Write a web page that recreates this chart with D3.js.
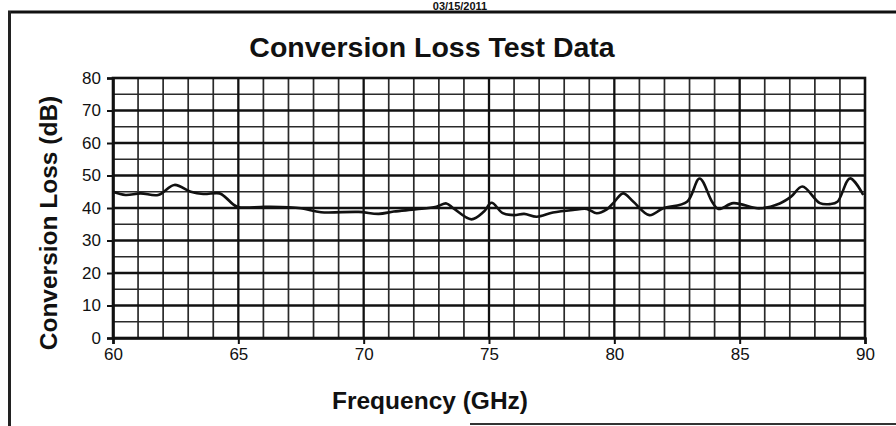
<!DOCTYPE html>
<html>
<head>
<meta charset="utf-8">
<script src="https://cdn.jsdelivr.net/npm/d3@7"></script>
<style>
  body { margin: 0; background: #fff; }
  svg { display: block; }
  text { font-family: "Liberation Sans", Arial, sans-serif; fill: #111; }
</style>
</head>
<body>
<svg id="chart" width="896" height="426"></svg>
<script>
// ---- data ----
const title = "Conversion Loss Test Data";
const xLabel = "Frequency (GHz)";
const yLabel = "Conversion Loss (dB)";
const headerText = "03/15/2011";
const xTicks = [60, 65, 70, 75, 80, 85, 90];
const yTicks = [0, 10, 20, 30, 40, 50, 60, 70, 80];
const frequencies = [60.0, 60.5, 61.1, 61.8, 62.45, 63.1, 63.6, 64.25, 64.5, 64.95, 66.1, 67.5, 68.3, 69.8, 70.6, 71.2, 72.1, 72.9, 73.3, 73.6, 74.3, 74.8, 75.1, 75.55, 76.0, 76.4, 76.9, 77.55, 78.35, 78.9, 79.3, 79.7, 80.0, 80.35, 80.75, 81.4, 81.95, 82.9, 83.4, 83.9, 84.15, 84.75, 85.8, 86.6, 87.05, 87.5, 88.2, 88.6, 88.9, 89.4, 89.93];
const losses = [45.0, 44.0, 44.5, 44.0, 47.1, 45.0, 44.3, 44.5, 43.2, 40.4, 40.4, 39.9, 38.7, 38.8, 38.2, 38.9, 39.6, 40.4, 41.4, 39.8, 36.5, 38.9, 41.6, 38.4, 37.8, 38.2, 37.3, 38.6, 39.4, 39.7, 38.4, 39.6, 41.9, 44.5, 42.0, 37.8, 39.9, 41.9, 49.1, 41.9, 39.7, 41.5, 39.9, 41.4, 43.5, 46.6, 41.5, 41.2, 41.9, 49.1, 44.0];

// ---- layout ----
const svg = d3.select("#chart");
const pL = 113, pR = 865, pT = 78, pB = 338;
const x = d3.scaleLinear().domain([60, 90]).range([pL, pR]);
const y = d3.scaleLinear().domain([0, 80]).range([pB, pT]);

// page frame (scanned document border)
svg.append("line").attr("x1", 8).attr("x2", 896).attr("y1", 12).attr("y2", 12)
  .attr("stroke", "#111").attr("stroke-width", 3);
svg.append("line").attr("x1", 9.5).attr("x2", 9.5).attr("y1", 11).attr("y2", 426)
  .attr("stroke", "#222").attr("stroke-width", 3);
svg.append("line").attr("x1", 470).attr("x2", 896).attr("y1", 424).attr("y2", 424)
  .attr("stroke", "#333").attr("stroke-width", 2);
svg.append("text").attr("x", 460).attr("y", 9.5).attr("text-anchor", "middle")
  .attr("font-size", 11).attr("font-weight", "bold").text(headerText);

// grid
const g = svg.append("g");
const minorX = d3.range(61, 90).filter(v => v % 5 !== 0);
const minorY = d3.range(5, 80, 10);
g.selectAll(".mx").data(minorX).join("line")
  .attr("x1", d => x(d)).attr("x2", d => x(d)).attr("y1", pT).attr("y2", pB)
  .attr("stroke", "#2a2a2a").attr("stroke-width", 1.7);
g.selectAll(".my").data(minorY).join("line")
  .attr("x1", pL).attr("x2", pR).attr("y1", d => y(d)).attr("y2", d => y(d))
  .attr("stroke", "#2a2a2a").attr("stroke-width", 1.7);
g.selectAll(".Mx").data(xTicks.slice(1, -1)).join("line")
  .attr("x1", d => x(d)).attr("x2", d => x(d)).attr("y1", pT).attr("y2", pB)
  .attr("stroke", "#111").attr("stroke-width", 2.3);
g.selectAll(".My").data(yTicks.slice(1, -1)).join("line")
  .attr("x1", pL).attr("x2", pR).attr("y1", d => y(d)).attr("y2", d => y(d))
  .attr("stroke", "#111").attr("stroke-width", 2.3);

// plot border
svg.append("rect").attr("x", pL).attr("y", pT).attr("width", pR - pL).attr("height", pB - pT)
  .attr("fill", "none").attr("stroke", "#111").attr("stroke-width", 2.6);

// axes
const xAxis = svg.append("g").attr("transform", `translate(0,${pB})`)
  .call(d3.axisBottom(x).tickValues(xTicks).tickSize(6).tickPadding(4).tickFormat(d3.format("d")));
const yAxis = svg.append("g").attr("transform", `translate(${pL},0)`)
  .call(d3.axisLeft(y).tickValues(yTicks).tickSize(6).tickPadding(6).tickFormat(d3.format("d")));
[xAxis, yAxis].forEach(a => {
  a.select(".domain").attr("stroke", "#111").attr("stroke-width", 2.6);
  a.selectAll(".tick line").attr("stroke", "#111").attr("stroke-width", 2);
  a.selectAll(".tick text").attr("font-size", 17).attr("fill", "#000")
    .attr("font-family", "Liberation Sans, Arial, sans-serif");
});

// data line
const pts = frequencies.map((f, i) => [f, losses[i]]);
svg.append("path").datum(pts)
  .attr("fill", "none").attr("stroke", "#111").attr("stroke-width", 2.6)
  .attr("stroke-linejoin", "round")
  .attr("d", d3.line().x(d => x(d[0])).y(d => y(d[1])).curve(d3.curveCatmullRom.alpha(0.5)));

// titles
svg.append("text").attr("x", 432).attr("y", 57).attr("text-anchor", "middle")
  .attr("font-size", 28.5).attr("font-weight", "bold").text(title);
svg.append("text").attr("x", 430).attr("y", 409).attr("text-anchor", "middle")
  .attr("font-size", 24.5).attr("font-weight", "bold").text(xLabel);
svg.append("text").attr("transform", "translate(57,223) rotate(-90)").attr("text-anchor", "middle")
  .attr("font-size", 24.5).attr("font-weight", "bold").text(yLabel);
</script>
</body>
</html>
